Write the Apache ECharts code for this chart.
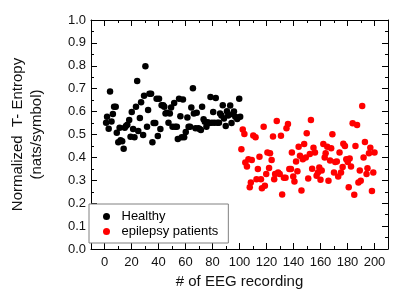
<!DOCTYPE html>
<html><head><meta charset="utf-8">
<script src="https://cdn.jsdelivr.net/npm/echarts@6/dist/echarts.min.js"></script>
<style>html,body{margin:0;padding:0;background:#fff}#c{width:415px;height:299px}</style>
</head><body><div id="c"></div>
<script>
const healthyX = [1.2,1.9,3.1,4.1,5.2,6.2,7.1,8.3,9.1,10.2,11.2,11.9,13.1,14.2,15.0,15.9,16.9,18.3,19.3,20.2,21.2,22.2,23.3,24.2,25.0,26.2,27.1,28.6,29.3,30.3,31.5,32.3,33.3,34.5,35.5,36.4,37.6,38.6,39.5,40.4,41.4,42.3,43.5,44.3,45.2,46.2,47.4,48.4,49.3,50.4,51.6,52.3,53.6,54.3,55.2,56.2,57.2,58.1,59.0,60.2,61.4,62.3,63.4,64.3,65.5,66.2,67.4,68.3,69.5,70.5,71.4,72.3,73.4,74.3,75.5,76.4,77.6,78.5,79.5,80.5,81.4,82.4,83.6,84.8,85.6,86.6,87.6,88.5,89.8,90.7,91.6,93.1,94.1,95.0,95.9,96.9,98.3,99.8,100.5];
const healthyY = [0.551,0.577,0.525,0.688,0.557,0.590,0.621,0.621,0.508,0.466,0.530,0.475,0.470,0.438,0.530,0.537,0.543,0.563,0.490,0.598,0.524,0.488,0.621,0.734,0.515,0.572,0.641,0.498,0.669,0.798,0.534,0.607,0.678,0.678,0.466,0.550,0.550,0.656,0.493,0.656,0.524,0.628,0.628,0.621,0.592,0.595,0.551,0.592,0.618,0.534,0.638,0.534,0.534,0.480,0.656,0.580,0.488,0.653,0.488,0.511,0.574,0.534,0.534,0.618,0.702,0.592,0.527,0.595,0.527,0.524,0.520,0.621,0.567,0.556,0.534,0.553,0.550,0.664,0.551,0.598,0.551,0.659,0.551,0.551,0.592,0.583,0.628,0.570,0.537,0.602,0.583,0.627,0.550,0.588,0.600,0.577,0.568,0.656,0.577];
const epilepsyX = [102.4,103.6,101.4,104.3,105.5,106.6,109.1,108.4,107.6,110.2,111.9,113.6,112.6,114.8,115.9,116.6,117.9,118.8,119.8,120.7,121.9,122.6,123.8,124.8,125.7,126.4,127.6,128.6,129.8,130.7,131.6,132.9,134.1,134.8,135.9,136.9,138.1,138.8,139.8,140.7,141.9,142.9,143.8,144.8,145.9,146.9,147.9,149.1,149.8,150.9,152.1,152.9,153.8,154.8,155.9,157.1,158.1,159.1,160.0,160.9,162.1,163.1,163.8,165.0,165.9,167.1,167.9,168.8,170.0,170.9,172.1,173.1,174.1,175.2,176.4,176.9,178.1,179.1,180.2,180.9,181.6,182.6,183.8,185.0,185.9,187.1,188.1,189.1,189.8,190.9,191.9,192.9,194.1,194.8,195.9,196.9,198.1,199.1,200.0];
const epilepsyY = [0.522,0.502,0.436,0.378,0.360,0.392,0.389,0.290,0.270,0.496,0.488,0.349,0.305,0.403,0.305,0.265,0.534,0.276,0.328,0.421,0.354,0.418,0.389,0.491,0.305,0.328,0.559,0.334,0.328,0.494,0.238,0.311,0.311,0.527,0.546,0.349,0.349,0.421,0.317,0.295,0.382,0.340,0.447,0.407,0.256,0.392,0.459,0.400,0.505,0.308,0.415,0.563,0.350,0.442,0.421,0.320,0.334,0.356,0.302,0.343,0.459,0.400,0.418,0.447,0.298,0.386,0.440,0.501,0.334,0.380,0.382,0.317,0.421,0.334,0.358,0.460,0.450,0.392,0.380,0.270,0.395,0.360,0.549,0.237,0.450,0.541,0.290,0.343,0.298,0.624,0.400,0.467,0.328,0.353,0.418,0.442,0.253,0.334,0.421];
const xMajorTicks = [0,20,40,60,80,100,120,140,160,180,200];
const seriesNames = ['Healthy','epilepsy patients'];

const FONT = 'Liberation Sans, Arial, sans-serif';
const chart = echarts.init(document.getElementById('c'), null, {renderer:'canvas'});
const lineStyle = {color:'#000', width:1};
const xBase = {type:'value', min:-10, max:210, splitLine:{show:false}};
const xMinor = Object.assign({}, xBase, {
  interval:10,
  axisLine:{show:true, onZero:false, lineStyle},
  axisTick:{show:true, inside:true, length:3, lineStyle}
});
const xMajor = Object.assign({}, xBase, {
  axisLine:{show:false, onZero:false},
  axisTick:{show:true, inside:true, length:6, lineStyle, customValues:xMajorTicks},
  axisLabel:{show:false}
});
const yBase = {
  type:'value', min:0, max:1, interval:0.1, splitLine:{show:false},
  axisLine:{show:true, onZero:false, lineStyle},
  axisTick:{show:true, inside:true, length:6, lineStyle},
  minorTick:{show:true, splitNumber:2, length:3, lineStyle}
};
const option = {
  animation:false,
  backgroundColor:'#fff',
  grid:{left:82, right:27, top:20, bottom:50, containLabel:false},
  xAxis:[
    Object.assign({}, xMinor, {position:'bottom',
      axisLabel:{show:true, margin:7, fontSize:13, fontFamily:FONT, color:'#111',
        formatter:v => (v % 20 === 0 && v >= 0 && v <= 200) ? String(v) : ''},
      name:'# of EEG recording', nameLocation:'middle', nameGap:18,
      nameTextStyle:{fontSize:15, fontFamily:FONT, color:'#111'}}),
    Object.assign({}, xMajor, {position:'bottom'}),
    Object.assign({}, xMinor, {position:'top', axisLabel:{show:false}}),
    Object.assign({}, xMajor, {position:'top'})
  ],
  yAxis:[
    Object.assign({}, yBase, {position:'left',
      axisLabel:{show:true, margin:5, fontSize:13, fontFamily:FONT, color:'#111',
        formatter:v => v.toFixed(1)},
      name:'Normalized  T- Entropy\n(nats/symbol)', nameLocation:'middle', nameRotate:90, nameGap:45,
      nameTextStyle:{fontSize:15, fontFamily:FONT, color:'#111', lineHeight:19}}),
    Object.assign({}, yBase, {position:'right', axisLabel:{show:false}})
  ],
  legend:{
    data:seriesNames, orient:'vertical', left:89, top:204,
    padding:[6,10,5,14], itemWidth:20, itemHeight:7, itemGap:2,
    borderColor:'#808080', borderWidth:1, backgroundColor:'#fff',
    textStyle:{fontSize:13, fontFamily:FONT, color:'#000'}
  },
  series:[
    {name:seriesNames[0], type:'scatter', xAxisIndex:0, yAxisIndex:0, symbol:'circle', symbolSize:6.5,
      itemStyle:{color:'#000', opacity:1}, data:healthyX.map((x,i)=>[x, healthyY[i]])},
    {name:seriesNames[1], type:'scatter', xAxisIndex:0, yAxisIndex:0, symbol:'circle', symbolSize:6.5,
      itemStyle:{color:'#ff0000', opacity:1}, data:epilepsyX.map((x,i)=>[x, epilepsyY[i]])}
  ]
};
chart.setOption(option);
</script>
</body></html>
